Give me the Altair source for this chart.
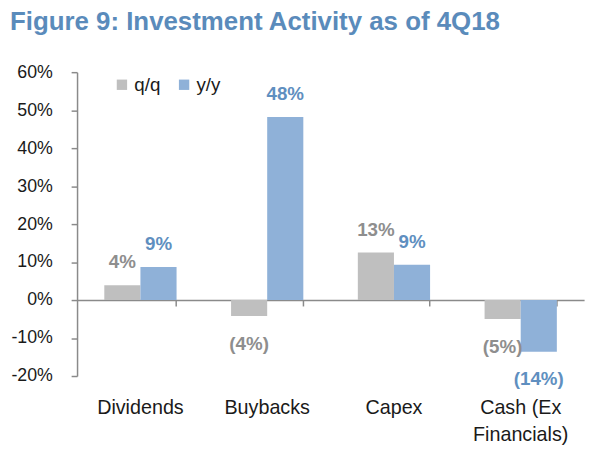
import altair as alt
import pandas as pd

categories = ["Dividends", "Buybacks", "Capex", "Cash (Ex Financials)"]
series = ["q/q", "y/y"]
qq_values = [3.9, -4.2, 12.5, -5.0]
yy_values = [8.7, 48.2, 9.3, -13.6]
qq_labels = ["4%", "(4%)", "13%", "(5%)"]
yy_labels = ["9%", "48%", "9%", "(14%)"]
y_ticks = [-20, -10, 0, 10, 20, 30, 40, 50, 60]

bar_colors = ["#bfbfbf", "#8fb1d8"]
label_colors = ["#8e8e8e", "#5f8fc0"]
FONT = "Liberation Sans"

rows = []
for c, v, l in zip(categories, qq_values, qq_labels):
    rows.append({"category": c, "series": "q/q", "value": v, "label": l})
for c, v, l in zip(categories, yy_values, yy_labels):
    rows.append({"category": c, "series": "y/y", "value": v, "label": l})
df = pd.DataFrame(rows)

W, H = 514, 308
zero_offset = -H * 20 / 80  # moves the category axis line up to the 0% level

x_scale = alt.Scale(domain=categories, paddingInner=0.43, paddingOuter=0.215)
y_scale = alt.Scale(domain=[-20, 60], nice=False, zero=False)
xo_scale = alt.Scale(domain=series, paddingInner=0, paddingOuter=0)

base = alt.Chart(df)

bars = base.mark_bar().encode(
    x=alt.X("category:N", sort=categories, scale=x_scale,
            axis=alt.Axis(orient="bottom", offset=zero_offset, labels=False, title=None,
                          ticks=True, bandPosition=1, tickSize=6, tickColor="#8a8a8a",
                          tickWidth=1.5, domainColor="#8a8a8a", domainWidth=1.5)),
    xOffset=alt.XOffset("series:N", scale=xo_scale, sort=series),
    y=alt.Y("value:Q", scale=y_scale,
            axis=alt.Axis(values=y_ticks, labelExpr="datum.value + '%'", title=None,
                          grid=False, tickSize=6, tickColor="#8a8a8a", tickWidth=1.5,
                          domainColor="#8a8a8a", domainWidth=1.5, labelPadding=19,
                          labelFontSize=18, labelColor="#1a1a1a", labelFont=FONT,
                          labelOverlap=False)),
    color=alt.Color("series:N", sort=series,
                    scale=alt.Scale(domain=series, range=bar_colors),
                    legend=alt.Legend(orient="none", legendX=36, legendY=3, direction="horizontal",
                                      title=None, symbolType="square", symbolSize=110,
                                      symbolStrokeWidth=0, labelFontSize=19, labelFont=FONT,
                                      labelColor="#1a1a1a", columnPadding=14, labelOffset=3,
                                      padding=0)),
)

text_color = alt.condition("datum.series == 'q/q'", alt.value(label_colors[0]), alt.value(label_colors[1]))

pos_text = base.transform_filter("datum.value >= 0").mark_text(
    baseline="alphabetic", dy=-17, fontSize=19, fontWeight="bold", font=FONT
).encode(
    x=alt.X("category:N", sort=categories, scale=x_scale,
            axis=alt.Axis(orient="bottom", domain=False, ticks=False, title=None,
                          labelFontSize=20, labelColor="#1a1a1a", labelFont=FONT,
                          labelPadding=22, labelLineHeight=27, labelAngle=0,
                          labelExpr="datum.label == 'Cash (Ex Financials)' ? ['Cash (Ex', 'Financials)'] : datum.label")),
    xOffset=alt.XOffset("series:N", scale=xo_scale, sort=series),
    y=alt.Y("value:Q", scale=y_scale, axis=None),
    text="label:N",
    color=text_color,
)

neg_text = base.transform_filter("datum.value < 0").mark_text(
    baseline="alphabetic", dy=34, fontSize=19, fontWeight="bold", font=FONT
).encode(
    x=alt.X("category:N", sort=categories, scale=x_scale, axis=None),
    xOffset=alt.XOffset("series:N", scale=xo_scale, sort=series),
    y=alt.Y("value:Q", scale=y_scale, axis=None),
    text="label:N",
    color=text_color,
)

chart = alt.layer(bars, pos_text, neg_text).resolve_axis(
    x="independent", y="independent"
).properties(
    width=W, height=H,
    autosize=alt.AutoSizeParams(type="none"),
    padding={"left": 70, "top": 62, "right": 7, "bottom": 76},
    title=alt.Title("Figure 9: Investment Activity as of 4Q18", anchor="start",
                    fontSize=26.2, fontWeight="bold", color="#5a8bbb", font=FONT,
                    dx=-1, offset=29),
).configure_view(stroke=None)

chart.save("out.html", embed_options={"renderer": "svg", "actions": False})
